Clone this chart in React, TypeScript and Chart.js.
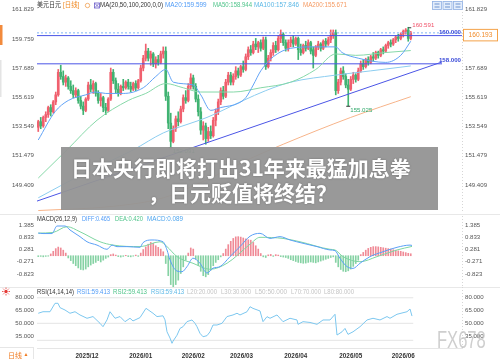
import React, { useEffect, useRef } from 'react';
import { Chart, registerables } from 'chart.js';

Chart.register(...registerables);

const FONT = "'Liberation Sans', Arial, 'Noto Sans CJK SC', sans-serif";
Chart.defaults.font.family = FONT;

// ---------------- data ----------------
// [open, high, low, close]
const candles: number[][] = [
  [153.5,154.0,153.2,153.9],[153.9,154.2,153.4,153.6],[153.6,154.3,153.5,154.2],[154.2,154.6,153.9,154.4],
  [154.4,155.0,154.2,154.9],[154.9,155.1,154.3,154.6],[154.6,155.4,154.5,155.3],[155.3,156.0,155.1,155.8],
  [155.8,157.6,155.7,157.4],[157.4,157.9,156.9,157.1],[157.1,157.5,156.5,156.7],[156.7,157.2,156.4,157.0],
  [157.0,157.1,156.2,156.4],[156.4,156.8,155.9,156.1],[156.1,156.5,155.6,155.8],[155.8,156.3,155.6,156.1],
  [156.1,156.2,155.2,155.4],[155.4,155.7,154.8,155.0],[155.0,155.3,154.4,154.7],[154.7,155.6,154.6,155.5],
  [155.5,156.7,155.4,156.5],[156.5,156.9,156.0,156.2],[156.2,156.8,155.9,156.6],[156.6,156.7,155.7,155.9],
  [155.9,156.1,155.2,155.4],[155.4,155.9,155.0,155.6],[155.6,155.7,154.6,154.9],[154.9,155.2,154.4,154.7],
  [154.7,155.6,154.6,155.5],[155.5,157.7,155.4,157.4],[157.4,157.6,156.6,156.8],[156.8,157.0,155.9,156.2],
  [156.2,156.6,155.7,155.9],[155.9,156.5,155.8,156.4],[156.4,156.9,156.1,156.3],[156.3,156.8,156.2,156.7],
  [156.7,156.9,156.2,156.4],[156.4,156.7,156.0,156.2],[156.2,156.7,156.1,156.6],[156.6,156.8,156.1,156.3],
  [156.3,156.9,156.2,156.8],[156.8,157.9,156.7,157.7],[157.7,158.6,157.5,158.4],[158.4,159.4,158.2,158.9],
  [158.9,159.1,158.2,158.4],[158.4,158.9,157.9,158.7],[158.7,158.8,157.8,158.0],[158.0,158.5,157.7,158.3],
  [158.3,158.6,157.9,158.1],[158.1,158.9,158.0,158.7],[158.7,159.2,158.4,158.9],[158.9,159.2,155.4,155.7],
  [155.7,156.0,153.4,153.8],[153.8,154.5,152.091,152.5],[152.5,153.6,152.4,153.4],[153.4,154.3,153.2,154.1],
  [154.1,154.6,153.6,153.9],[153.9,155.0,153.8,154.8],[154.8,155.8,154.6,155.6],[155.6,156.1,155.2,155.4],
  [155.4,156.6,155.3,156.4],[156.4,157.3,156.2,157.0],[157.0,157.2,156.2,156.4],[156.4,156.6,155.3,155.5],
  [155.5,155.8,154.3,154.6],[154.6,154.9,153.0,153.3],[153.3,153.9,152.6,153.6],[153.6,153.8,152.3,152.7],
  [152.7,153.5,152.5,153.2],[153.2,153.6,152.7,152.9],[152.9,154.2,152.8,154.0],[154.0,154.8,153.6,154.6],
  [154.6,155.5,154.4,155.3],[155.3,156.3,155.1,156.1],[156.1,156.4,155.5,155.7],[155.7,156.9,155.6,156.7],
  [156.7,157.4,156.5,157.2],[157.2,157.4,156.5,156.7],[156.7,157.3,156.5,157.1],[157.1,157.8,156.9,157.5],
  [157.5,157.7,157.0,157.2],[157.2,157.9,157.1,157.8],[157.8,158.2,157.4,157.6],[157.6,158.7,157.5,158.5],
  [158.5,159.2,158.3,159.0],[159.0,159.3,158.6,158.8],[158.8,159.6,158.7,159.4],[159.4,159.8,159.0,159.2],
  [159.2,159.6,158.8,159.5],[159.5,159.7,158.9,159.1],[159.1,159.9,159.0,159.7],[159.7,159.9,157.6,157.8],
  [157.8,158.6,157.7,158.4],[158.4,159.0,158.2,158.8],[158.8,159.5,158.6,159.3],[159.3,159.6,158.8,159.0],
  [159.0,160.0,158.9,159.8],[159.8,160.4,159.5,160.1],[160.1,160.2,159.3,159.5],[159.5,159.7,158.9,159.1],
  [159.1,159.7,158.9,159.5],[159.5,159.9,159.2,159.7],[159.7,160.0,159.2,159.4],[159.4,159.9,159.3,159.8],
  [159.8,159.9,158.3,159.0],[159.0,159.4,158.6,158.8],[158.8,159.4,158.7,159.3],[159.3,159.6,158.9,159.1],
  [159.1,159.7,159.0,159.5],[159.5,159.6,158.7,158.9],[159.0,159.2,157.7,158.6],[158.6,159.3,158.5,159.2],
  [159.2,159.6,159.0,159.4],[159.4,159.5,158.9,159.1],[159.1,159.7,159.0,159.6],[159.6,159.8,159.2,159.4],
  [159.4,159.9,159.3,159.7],[159.7,160.4,159.5,160.0],[160.0,160.4,159.8,160.2],[160.2,160.4,155.8,156.1],
  [156.1,156.9,155.9,156.7],[156.7,157.7,156.5,157.5],[157.5,157.8,156.9,157.1],[157.1,157.3,156.3,156.5],
  [156.5,156.9,155.025,156.2],[156.2,157.1,156.1,156.9],[156.9,157.4,156.6,157.2],[157.2,157.3,156.7,156.9],
  [156.9,157.7,156.8,157.5],[157.5,158.2,157.4,158.0],[158.0,158.3,157.6,157.8],[157.8,158.4,157.7,158.3],
  [158.3,158.5,157.9,158.1],[158.1,158.6,158.0,158.5],[158.5,158.8,158.2,158.4],[158.4,158.9,158.3,158.8],
  [158.8,158.9,158.4,158.6],[158.6,159.1,158.5,159.0],[159.0,159.2,158.7,158.9],[158.9,159.4,158.8,159.3],
  [159.3,159.6,159.1,159.5],[159.5,159.7,159.2,159.4],[159.4,159.8,159.3,159.7],[159.7,160.0,159.5,159.9],
  [159.9,160.1,159.6,159.8],[159.8,160.2,159.7,160.1],[160.1,160.4,159.9,160.3],[160.3,160.5,160.1,160.4],
  [160.4,160.591,159.6,159.8],[159.8,160.3,159.7,160.193],
];

// moving averages: [candle index, value]
const ma20: number[][] = [[0,152.6],[6.7,154.6],[12,155.4],[19,155.8],[23,156.0],[27,155.9],[34,155.9],[42,156.3],[47,157.1],[51,157.6],[54,156.7],[62,156.5],[65,155.8],[69,154.7],[73,154.9],[80,155.2],[83,155.6],[86,156.5],[89,157.5],[94,158.5],[101,159.1],[110,159.2],[119,159.2],[121.5,158.8],[128,158.4],[139,158.1],[145,158.6],[149,159.6]];
const ma50: number[][] = [[0,149.9],[11.5,151.9],[23.5,154.0],[36,155.4],[43,155.9],[51,156.6],[58,156.3],[65,156.0],[78,156.0],[89,156.3],[101,156.7],[111,157.6],[119,158.7],[127,158.6],[139,158.8],[149,158.94]];
const ma100: number[][] = [[0,148.5],[18,150.2],[38,151.9],[50,153.1],[59.5,153.7],[67.5,154.2],[82,155.4],[91,156.1],[101,156.7],[119,157.2],[133,157.5],[149,157.85]];
const ma200: number[][] = [[0,147.6],[30,147.9],[50,148.5],[70,150.0],[85,151.3],[98,152.3],[125,154.2],[149,155.67]];
const trendLine: number[][] = [[-0.5,148.27],[161.5,158.13]];
const levelValues = [160.0, 158.0];
const levelEnds = [169.5, 161.5];
const highMarks = [148];
const lowMarks = [53, 124];
const priceTicks = [149.409, 151.479, 153.549, 155.619, 157.689, 159.759, 161.829];

const macdHist: number[] = [
  -0.04,-0.03,-0.05,-0.03,-0.02,
  0.08,0.2,0.32,0.39,0.35,0.25,0.12,
  -0.1,-0.22,-0.35,-0.45,-0.55,-0.62,-0.64,-0.6,-0.5,-0.42,-0.35,-0.3,-0.22,-0.28,-0.2,-0.12,-0.06,
  0.05,0.08,0.03,-0.04,-0.06,-0.03,0.02,-0.04,-0.05,-0.02,0.03,-0.03,
  0.12,0.28,0.4,0.52,0.6,0.56,0.45,0.38,0.3,0.18,
  -0.35,-0.9,-1.3,-1.4,-1.3,-1.1,-0.8,-0.5,
  -0.2,0.12,0.35,0.3,
  -0.15,-0.45,-0.7,-0.9,-0.95,-0.85,-0.65,-0.45,
  -0.3,-0.18,-0.05,
  0.1,0.3,0.5,0.65,0.78,0.85,0.86,0.84,0.8,0.76,0.72,
  0.7,0.6,0.45,0.3,
  0.1,-0.05,-0.08,0.04,0.06,-0.03,0.05,0.03,-0.04,-0.06,
  -0.08,-0.12,-0.18,-0.22,-0.26,-0.3,-0.32,-0.34,-0.33,-0.3,-0.28,-0.3,-0.32,-0.28,-0.24,-0.2,-0.16,-0.12,-0.08,-0.05,
  -0.3,-0.5,-0.62,-0.7,-0.72,-0.68,-0.6,-0.48,-0.35,-0.2,
  0.05,0.15,0.25,0.33,0.38,0.41,0.41,0.4,0.38,0.36,0.34,0.32,0.3,0.27,0.25,0.22,0.2,0.17,0.14,0.11,0.09,
];
const diffLine: number[][] = [[0,1.02],[1.9,1.0],[5.5,1.0],[7.5,1.34],[10.7,1.34],[12.7,1.16],[16.7,0.86],[19.5,0.63],[23.5,0.48],[27.5,0.29],[29.5,0.48],[31.5,0.41],[35.5,0.41],[40.7,0.38],[41.9,0.59],[45.5,0.71],[49.9,0.63],[51.5,0.26],[52.7,-0.19],[55.5,-0.69],[57.5,-0.72],[59.5,-0.49],[61.9,-0.11],[64.7,-0.34],[67.5,-0.78],[69.9,-0.56],[72.7,-0.49],[76.7,-0.04],[80.7,0.41],[84.7,0.88],[88.7,1.01],[92.7,0.78],[96.7,0.86],[100.7,0.71],[105.9,0.56],[111.5,0.41],[116.7,0.26],[118.7,0.23],[120.7,-0.12],[123.5,-0.49],[125.9,-0.57],[128.7,-0.34],[132.7,-0.04],[137.9,0.18],[143.5,0.38],[148.7,0.48],[149.5,0.465]];
const deaLine: number[][] = [[0,1.02],[5.9,1.05],[11.5,1.31],[16.7,1.08],[24.7,0.63],[29.9,0.48],[40.7,0.41],[48.7,0.63],[51.5,0.41],[55.5,-0.04],[61.9,-0.34],[68.7,-0.61],[75.5,-0.34],[84.7,0.52],[88.7,0.83],[97.9,0.78],[104.7,0.63],[116.7,0.29],[118.7,0.26],[121.9,-0.04],[128.7,-0.27],[135.5,-0.04],[143.5,0.26],[149.5,0.42]];
const macdTicks = [1.385, 0.833, 0.281, -0.271, -0.823];

const rsiLine: number[][] = [[0,61.8],[1.9,63.6],[4.7,63.6],[6.7,73.5],[7.9,73.5],[8.7,68.4],[10.7,65.6],[12.7,61.8],[14.7,63.6],[16.7,59.8],[19.5,55.9],[21.9,57.9],[24.7,50],[25.9,46],[27.5,54],[28.7,63.6],[30.7,55.9],[32.7,57.9],[34.7,51.9],[36.7,55.9],[37.9,52.8],[40.7,56.7],[43.1,67.6],[45.9,61.8],[47.5,57.9],[49.9,58.8],[50.7,54],[51.5,40],[52.7,32.7],[53.5,26.5],[53.9,29],[55.5,36],[56.7,44],[57.9,46],[59.5,52],[61.5,53.9],[62.7,50],[63.5,46],[64.7,38.2],[65.9,34.2],[67.5,35.5],[68.7,40],[69.9,48],[71.5,48],[73.5,50],[75.5,57.9],[77.9,59.8],[79.5,61.8],[80.7,59.8],[83.5,63.6],[84.7,69.5],[85.9,67.5],[88.7,64.5],[89.9,51.9],[91.5,57.8],[92.7,55.9],[95.5,59.8],[97.9,51.9],[100.7,55.9],[103.5,53.9],[103.9,48.8],[105.9,51.9],[108.7,51],[111.5,48.8],[113.9,53.9],[116.7,53.9],[118.7,60.6],[119.5,36.2],[121.5,40],[122.7,44],[123.9,37],[125.9,40],[128.7,46],[131.5,53.9],[133.9,55.9],[136.7,53.9],[139.5,57.9],[140.7,55.9],[143.5,60.6],[147.5,63.6],[148.7,66.8],[149.5,58.5]];
const rsiRefLevels = [80, 50, 30];
const rsiTicks = [80, 65, 50, 35];
const monthIdx = [19.5, 41, 62, 81.3, 103, 125, 146];
const monthLabels = ['2025/12', '2026/01', '2026/02', '2026/03', '2026/04', '2026/05', '2026/06'];

// header texts: [text, x, maxWidth, color]
const mainHeader: [string, number, number, string][] = [
  ['美元日元', 37, 24, '#333'],
  ['[日线]', 63, 20, '#f08a24'],
  ['MA(20,50,100,200,0,0)', 100, 63, '#333'],
  ['MA20:159.599', 165, 45, '#4f9bf7'],
  ['MA50:158.944', 213, 39, '#4fc48a'],
  ['MA100:157.846', 254, 45, '#5cb8e6'],
  ['MA200:155.671', 303, 44, '#f59a62'],
];
const macdHeader: [string, number, number, string][] = [
  ['MACD(26,12,9)', 37, 40, '#333'],
  ['DIFF:0.465', 82, 28, '#4f9bf7'],
  ['DEA:0.420', 115, 28, '#4fc48a'],
  ['MACD:0.089', 147, 36, '#4fa6ee'],
];
const rsiHeader: [string, number, number, string][] = [
  ['RSI(14,14,14)', 37, 37, '#333'],
  ['RSI1:59.413', 77, 33, '#4f9bf7'],
  ['RSI2:59.413', 113, 34, '#4fc48a'],
  ['RSI3:59.413', 151, 33, '#5cb8e6'],
  ['L20:20.000', 187, 30, '#c4c4c4'],
  ['L30:30.000', 221, 30, '#c4c4c4'],
  ['L50:50.000', 255, 32, '#c4c4c4'],
  ['L70:70.000', 291, 30, '#c4c4c4'],
  ['L80:80.000', 324, 30, '#c4c4c4'],
];

// ---------------- styling ----------------
const UP = '#f0606e';
const DOWN = '#40b372';
const X_MIN = -0.5, X_MAX = 169.5;
const P_MIN = 147.424, P_MAX = 162.524;
const M_MIN = -1.409, M_MAX = 1.926;
const R_MIN = 20.98, R_MAX = 92.65;

const pts = (a: number[][]) => a.map(([x, y]) => ({ x, y }));

function lineDs(data: number[][], color: string, extra: any = {}) {
  return {
    type: 'line', data: pts(data), borderColor: color, borderWidth: 1, pointRadius: 0,
    fill: false, cubicInterpolationMode: 'monotone', order: 0, ...extra,
  };
}

function yAxis(position: string, ticks: number[], min: number, max: number, width: number) {
  return {
    type: 'linear', position, min, max,
    afterBuildTicks: (s: any) => { s.ticks = ticks.map((v) => ({ value: v })); },
    afterFit: (s: any) => { s.width = width; s.paddingTop = 0; s.paddingBottom = 0; },
    grid: { display: false, drawTicks: false },
    border: { display: false },
    ticks: { autoSkip: false, padding: 3, color: '#555', font: { size: 6.1 }, callback: (v: any) => Number(v).toFixed(3) },
  };
}

const hiddenX = { type: 'linear', min: X_MIN, max: X_MAX, display: false, offset: false };

const baseOpts = {
  responsive: false, animation: false, events: [],
  layout: { padding: 0 },
  plugins: { legend: { display: false }, tooltip: { enabled: false }, title: { display: false } },
};

function drawSegs(ctx: CanvasRenderingContext2D, segs: [string, number, number, string][], y: number) {
  ctx.font = `6.4px ${FONT}`;
  ctx.textAlign = 'left';
  ctx.textBaseline = 'middle';
  for (const [t, x, w, c] of segs) { ctx.fillStyle = c; ctx.fillText(t, x, y, w); }
}

function rightDotted(ctx: CanvasRenderingContext2D, a: any) {
  ctx.save();
  ctx.strokeStyle = '#d6d6d6'; ctx.lineWidth = 1; ctx.setLineDash([1, 2]);
  ctx.beginPath(); ctx.moveTo(a.right + 0.5, a.top); ctx.lineTo(a.right + 0.5, a.bottom); ctx.stroke();
  ctx.restore();
}

const mainDecor = {
  id: 'mainDecor',
  afterDraw(chart: any) {
    const { ctx, chartArea: a } = chart;
    const xs = chart.scales.x, ys = chart.scales.y;
    ctx.save();
    rightDotted(ctx, a);
    // left edge marks
    ctx.fillStyle = '#f28a3c'; ctx.fillRect(0, 25, 2.5, 20);
    ctx.fillStyle = '#e4e4e4'; ctx.fillRect(0, 60, 1.5, 37);
    // header
    drawSegs(ctx, mainHeader, 5.5);
    ctx.strokeStyle = '#f0a050'; ctx.lineWidth = 0.8;
    ctx.beginPath(); ctx.arc(87.5, 5.5, 2.2, 0, Math.PI * 2); ctx.stroke();
    ctx.strokeStyle = '#6a5cc8';
    ctx.strokeRect(94.5, 3, 5, 5);
    ctx.beginPath(); ctx.moveTo(95, 3.5); ctx.lineTo(99, 7.5); ctx.moveTo(99, 3.5); ctx.lineTo(95, 7.5); ctx.stroke();
    // right top icons
    for (let k = 0; k < 3; k++) {
      const ix = 432.5 + k * 10.5;
      ctx.fillStyle = '#e3edfb'; ctx.fillRect(ix, 1.5, 9, 8);
      ctx.strokeStyle = '#8fb0e3'; ctx.strokeRect(ix, 1.5, 9, 8);
      ctx.fillStyle = '#6f93d0'; ctx.fillRect(ix + 2, 3.5, 5, 1); ctx.fillRect(ix + 2, 6.5, 5, 1);
    }
    // level labels
    ctx.font = `bold 6.1px ${FONT}`;
    ctx.fillStyle = '#3a4ad8';
    ctx.textAlign = 'right';
    ctx.textBaseline = 'bottom';
    levelValues.forEach((v) => ctx.fillText(v.toFixed(3), a.right - 1, ys.getPixelForValue(v) - 0.5));
    // extremes
    ctx.font = `6.1px ${FONT}`;
    ctx.textAlign = 'left';
    ctx.strokeStyle = '#333'; ctx.lineWidth = 1;
    highMarks.forEach((i) => {
      const px = xs.getPixelForValue(i), py = ys.getPixelForValue(candles[i][1]);
      ctx.beginPath(); ctx.moveTo(px, py + 0.5); ctx.lineTo(px + 3, py + 0.5); ctx.stroke();
      ctx.fillStyle = '#f05068'; ctx.textBaseline = 'middle';
      ctx.fillText(candles[i][1].toFixed(3), px + 4, py - 2);
    });
    lowMarks.forEach((i) => {
      const px = xs.getPixelForValue(i), py = ys.getPixelForValue(candles[i][2]);
      ctx.beginPath(); ctx.moveTo(px - 2, py + 0.5); ctx.lineTo(px + 2, py + 0.5); ctx.stroke();
      ctx.fillStyle = '#2fa86a'; ctx.textBaseline = 'top';
      ctx.fillText(candles[i][2].toFixed(3), px + 2, py + 1.5);
    });
    // last price box
    const last = candles[candles.length - 1][3];
    const lp = ys.getPixelForValue(last);
    ctx.fillStyle = '#fff';
    ctx.fillRect(a.right + 1, lp - 4, 35, 12.5);
    ctx.strokeStyle = '#f4a24a';
    ctx.strokeRect(a.right + 1.5, lp - 3.5, 34, 11.5);
    ctx.fillStyle = '#f08c2c';
    ctx.font = `6.6px ${FONT}`;
    ctx.textAlign = 'center'; ctx.textBaseline = 'middle';
    ctx.fillText(last.toFixed(3), a.right + 18.5, lp + 2.3);
    ctx.restore();
  },
};

const macdDecor = {
  id: 'macdDecor',
  beforeDraw(chart: any) {
    const { ctx } = chart;
    ctx.save();
    ctx.fillStyle = '#e8e8e8'; ctx.fillRect(0, 1, 500, 1);
    ctx.restore();
  },
  afterDraw(chart: any) {
    const { ctx, chartArea: a } = chart;
    ctx.save();
    rightDotted(ctx, { ...a, top: a.top + 3 });
    drawSegs(ctx, macdHeader, 6.5);
    ctx.restore();
  },
};

const rsiDecor = {
  id: 'rsiDecor',
  beforeDraw(chart: any) {
    const { ctx } = chart;
    ctx.save();
    ctx.fillStyle = '#e8e8e8'; ctx.fillRect(0, 0, 500, 1);
    ctx.restore();
  },
  afterDraw(chart: any) {
    const { ctx, chartArea: a } = chart;
    ctx.save();
    rightDotted(ctx, a);
    drawSegs(ctx, rsiHeader, 5);
    // sun icon
    const cx = 6, cy = 4.5;
    ctx.fillStyle = '#e53935'; ctx.strokeStyle = '#e53935'; ctx.lineWidth = 0.8;
    ctx.beginPath(); ctx.arc(cx, cy, 1.7, 0, Math.PI * 2); ctx.fill();
    for (let k = 0; k < 8; k++) {
      const t = (k * Math.PI) / 4;
      ctx.beginPath();
      ctx.moveTo(cx + Math.cos(t) * 2.5, cy + Math.sin(t) * 2.5);
      ctx.lineTo(cx + Math.cos(t) * 4, cy + Math.sin(t) * 4);
      ctx.stroke();
    }
    // bottom-left period tab
    ctx.fillStyle = '#e6e6e6';
    ctx.fillRect(0, a.bottom - 1, 34, 1);
    ctx.fillRect(33, a.bottom - 1, 1, 20);
    ctx.font = `7px 'Noto Sans CJK SC', ${FONT}`;
    ctx.fillStyle = '#f07a20'; ctx.textAlign = 'left'; ctx.textBaseline = 'middle';
    ctx.fillText('日线', 8, 68);
    ctx.font = `5px ${FONT}`;
    ctx.fillText('▲', 23.5, 68);
    ctx.restore();
  },
};

function mainConfig(): any {
  const colors = candles.map(([o, , , c]) => (c >= o ? UP : DOWN));
  return {
    type: 'bar',
    data: {
      datasets: [
        lineDs(ma20, '#62a3f6'),
        lineDs(ma50, '#86d8a8'),
        lineDs(ma100, '#8ccdf0'),
        lineDs(ma200, '#f7b48a'),
        lineDs(trendLine, '#4b55e6', { order: 1 }),
        ...levelValues.map((v, k) => lineDs([[X_MIN, v], [levelEnds[k], v]], '#4b55e6', { order: 1 })),
        lineDs([[X_MIN, candles[candles.length - 1][3]], [X_MAX, candles[candles.length - 1][3]]], '#7db3f5', { order: 1, borderDash: [2, 2] }),
        {
          type: 'bar', order: 5, grouped: false, barThickness: 1,
          data: candles.map(([, h, l], i) => ({ x: i, y: [l, h] })), backgroundColor: colors,
        },
        {
          type: 'bar', order: 4, grouped: false, barThickness: 2, minBarLength: 1,
          data: candles.map(([o, , , c], i) => ({ x: i, y: [o, c] })), backgroundColor: colors,
        },
      ],
    },
    options: {
      ...baseOpts,
      scales: {
        x: hiddenX,
        y: yAxis('left', priceTicks, P_MIN, P_MAX, 37),
        yR: yAxis('right', priceTicks, P_MIN, P_MAX, 38),
      },
    },
    plugins: [mainDecor],
  };
}

function macdConfig(): any {
  return {
    type: 'bar',
    data: {
      datasets: [
        lineDs(diffLine, '#5aa0f6'),
        lineDs(deaLine, '#7fd6a2'),
        {
          type: 'bar', order: 5, grouped: false, barThickness: 1,
          data: macdHist.map((v, i) => ({ x: i, y: v })),
          backgroundColor: macdHist.map((v) => (v >= 0 ? '#f08a96' : '#86d2a4')),
        },
      ],
    },
    options: {
      ...baseOpts,
      scales: {
        x: hiddenX,
        y: yAxis('left', macdTicks, M_MIN, M_MAX, 37),
        yR: yAxis('right', macdTicks, M_MIN, M_MAX, 38),
      },
    },
    plugins: [macdDecor],
  };
}

function rsiConfig(): any {
  return {
    type: 'line',
    data: {
      datasets: [
        lineDs(rsiLine, '#7cc7ef', { cubicInterpolationMode: 'default', tension: 0 }),
        ...rsiRefLevels.map((v) => lineDs([[X_MIN, v], [candles.length, v]], '#e4e4e4', { order: 3 })),
      ],
    },
    options: {
      ...baseOpts,
      scales: {
        x: {
          type: 'linear', min: X_MIN, max: X_MAX, offset: false,
          afterBuildTicks: (s: any) => { s.ticks = monthIdx.map((v) => ({ value: v })); },
          afterFit: (s: any) => { s.height = 11; s.paddingLeft = 0; s.paddingRight = 0; },
          grid: { display: false, drawTicks: false },
          border: { display: true, color: '#e6e6e6' },
          ticks: {
            autoSkip: false, maxRotation: 0, padding: 4.5, color: '#333',
            font: { size: 6.3, weight: 'bold' },
            callback: (_v: any, idx: number) => monthLabels[idx],
          },
        },
        y: yAxis('left', rsiTicks, R_MIN, R_MAX, 37),
        yR: yAxis('right', rsiTicks, R_MIN, R_MAX, 38),
      },
    },
    plugins: [rsiDecor],
  };
}

export default function App() {
  const mainRef = useRef<HTMLCanvasElement>(null);
  const macdRef = useRef<HTMLCanvasElement>(null);
  const rsiRef = useRef<HTMLCanvasElement>(null);

  useEffect(() => {
    const charts = [
      new Chart(mainRef.current as HTMLCanvasElement, mainConfig()),
      new Chart(macdRef.current as HTMLCanvasElement, macdConfig()),
      new Chart(rsiRef.current as HTMLCanvasElement, rsiConfig()),
    ];
    return () => charts.forEach((c) => c.destroy());
  }, []);

  const abs: React.CSSProperties = { position: 'absolute', left: 0 };
  const titleLine: React.CSSProperties = {
    position: 'absolute', color: '#fff', fontFamily: "'Noto Sans CJK SC', sans-serif", fontWeight: 700,
    fontSize: 21, lineHeight: '22px', whiteSpace: 'nowrap', textShadow: '0 0 2px rgba(0,0,0,0.3)',
  };

  return (
    <div style={{ position: 'fixed', left: 0, top: 0, width: 500, height: 359, background: '#fff', overflow: 'hidden' }}>
      <canvas ref={mainRef} width={500} height={213} style={{ ...abs, top: 0 }} />
      <canvas ref={macdRef} width={500} height={74} style={{ ...abs, top: 213 }} />
      <canvas ref={rsiRef} width={500} height={72} style={{ ...abs, top: 287 }} />
      <div style={{ position: 'absolute', left: 61, top: 147, width: 377, height: 63, background: 'rgba(148,148,148,0.95)' }} />
      <div style={{ ...titleLine, left: 71, top: 156 }}>日本央行即将打出31年来最猛加息拳</div>
      <div style={{ ...titleLine, left: 148, top: 181 }}>，日元贬值将终结？</div>
      <div style={{
        position: 'absolute', left: 437, top: 329, fontFamily: "'Liberation Sans', Arial, sans-serif",
        fontSize: 23, lineHeight: '23px', color: 'rgba(190,190,190,0.75)', transform: 'scaleX(0.72)',
        transformOrigin: 'left top', whiteSpace: 'nowrap',
      }}>FX678</div>
    </div>
  );
}
